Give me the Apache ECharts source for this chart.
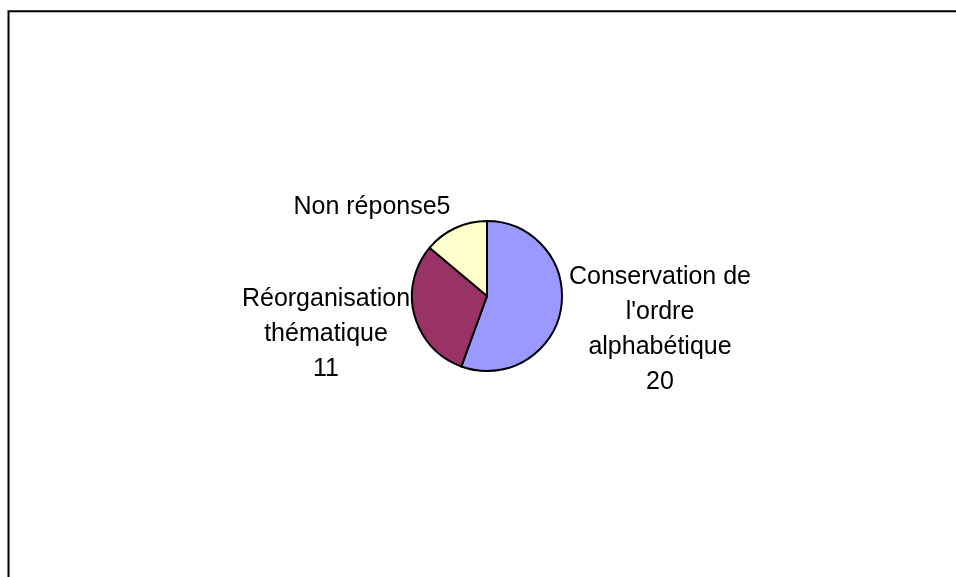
<!DOCTYPE html>
<html>
<head>
<meta charset="utf-8">
<script src="https://cdn.jsdelivr.net/npm/echarts@6/dist/echarts.min.js"></script>
<style>
  html, body { margin: 0; padding: 0; background: #fff; }
  #main { width: 956px; height: 577px; }
</style>
</head>
<body>
<div id="main"></div>
<script>
// data
const categories = ["Conservation de\nl'ordre\nalphabétique", 'Réorganisation\nthématique', 'Non réponse'];
const values = [20, 11, 5];
const colors = ['#9999FF', '#993366', '#FFFFCC'];
// "Non réponse" has its value glued on, the others sit on their own line
const separators = ['\n', '\n', ''];

// where each label block is centred
const labelPos = [[660, 330], [326, 334], [372, 207]];

const myChart = echarts.init(document.getElementById('main'));

const option = {
  animation: false,
  backgroundColor: '#fff',
  graphic: [
    {
      type: 'rect',
      shape: { x: 8.5, y: 11.3, width: 1200, height: 900 },
      style: { fill: 'none', stroke: '#000', lineWidth: 2 },
      silent: true
    }
  ],
  series: [
    {
      type: 'pie',
      center: [487, 296],
      radius: 75,
      startAngle: 90,
      clockwise: true,
      silent: true,
      data: categories.map((name, i) => ({
        name: name,
        value: values[i],
        itemStyle: { color: colors[i] }
      })),
      itemStyle: { borderColor: '#000', borderWidth: 2 },
      label: {
        show: true,
        position: 'outside',
        formatter: (p) => p.name + separators[p.dataIndex] + p.value,
        fontFamily: 'Liberation Sans, Arial, sans-serif',
        fontSize: 25,
        lineHeight: 35,
        color: '#000',
        align: 'center'
      },
      labelLine: { show: false },
      labelLayout: (params) => ({
        x: labelPos[params.dataIndex][0],
        y: labelPos[params.dataIndex][1],
        align: 'center',
        verticalAlign: 'middle'
      })
    }
  ]
};

option && myChart.setOption(option);
</script>
</body>
</html>
